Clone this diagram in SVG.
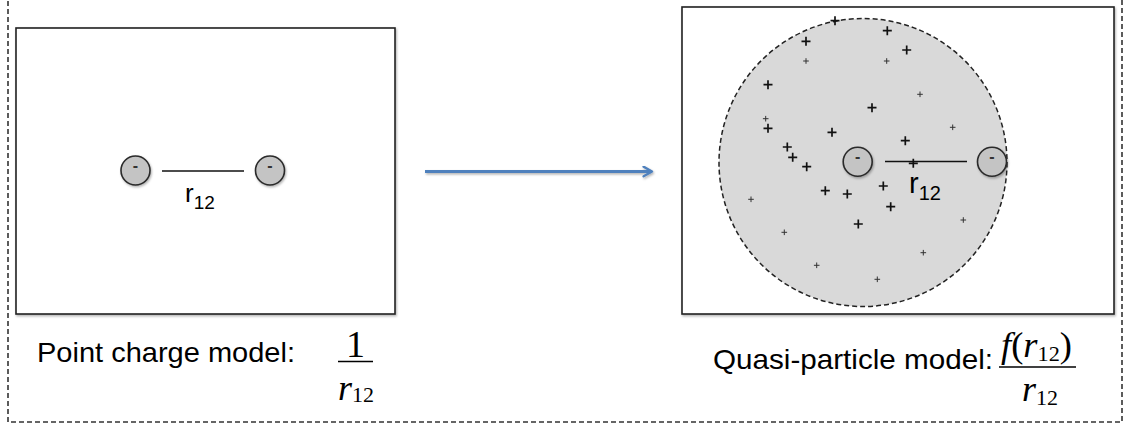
<svg xmlns="http://www.w3.org/2000/svg" width="1130" height="427" viewBox="0 0 1130 427">
  <defs>
    <filter id="sh" x="-10%" y="-10%" width="130%" height="130%">
      <feDropShadow dx="1" dy="1.5" stdDeviation="1.2" flood-color="#000" flood-opacity="0.3"/>
    </filter>
    <filter id="shl" filterUnits="userSpaceOnUse" x="400" y="140" width="290" height="60">
      <feDropShadow dx="1" dy="1.5" stdDeviation="1.2" flood-color="#000" flood-opacity="0.3"/>
    </filter>
    <marker id="arr" viewBox="0 0 10 10" refX="8" refY="5" markerWidth="4" markerHeight="4" orient="auto" markerUnits="strokeWidth">
      <path d="M1,1 L8,5 L1,9" fill="none" stroke="#4f81bd" stroke-width="2" stroke-linecap="round" stroke-linejoin="round"/>
    </marker>
    <path id="pb" d="M-4.5,0 H4.5 M0,-4.5 V4.5" stroke="#111" stroke-width="1.7" fill="none"/>
    <path id="ps" d="M-2.8,0 H2.8 M0,-2.8 V2.8" stroke="#333" stroke-width="1" fill="none"/>
  </defs>
  <style>
    .box { fill: #fff; stroke: #222; stroke-width: 1.6; }
    .elec { fill: #c4c4c4; stroke: #2a2a2a; stroke-width: 1.6; }
    .minus { font-family: "Liberation Sans", Arial, sans-serif; font-size: 16px; font-weight: bold; fill: #333; text-anchor: middle; }
    .lbl { font-family: "Liberation Sans", Arial, sans-serif; fill: #000; }
    .math { font-family: "Liberation Serif", "Times New Roman", serif; fill: #000; }
    .bond { stroke: #111; stroke-width: 1.6; }
  </style>

  <rect x="8" y="-6" width="1114" height="428" fill="none" stroke="#333" stroke-width="1.6" stroke-dasharray="5,3"/>

  <g id="left-panel">
    <rect class="box" x="16" y="28" width="379" height="286" filter="url(#sh)"/>
  </g>

  <g id="left-electron-1">
    <circle class="elec" cx="135.5" cy="170.5" r="14.5" filter="url(#sh)"/>
    <text class="minus" x="135.5" y="171">-</text>
  </g>
  <g id="left-electron-2">
    <circle class="elec" cx="270" cy="170.5" r="14.5" filter="url(#sh)"/>
    <text class="minus" x="270" y="171">-</text>
  </g>
  <g id="left-distance">
    <line class="bond" x1="162" y1="171" x2="244" y2="171"/>
    <text class="lbl" x="185" y="201.5" font-size="26">r<tspan font-size="19" dy="7.5">12</tspan></text>
  </g>

  <g id="left-caption">
    <text class="lbl" x="37" y="362" font-size="28" textLength="258" lengthAdjust="spacingAndGlyphs">Point charge model:</text>
    <text class="math" x="355.5" y="357" font-size="38" text-anchor="middle">1</text>
    <line x1="338" y1="361.5" x2="373" y2="361.5" stroke="#000" stroke-width="1.4"/>
    <text class="math" x="338" y="400" font-size="36"><tspan font-style="italic">r</tspan><tspan font-size="22" dy="2">12</tspan></text>
  </g>

  <g id="connectors">
    <line x1="425" y1="171.5" x2="652" y2="171.5" stroke="#4f81bd" stroke-width="3" marker-end="url(#arr)" filter="url(#shl)"/>
  </g>

  <g id="right-panel">
    <rect class="box" x="682" y="7" width="432" height="307" filter="url(#sh)"/>
  </g>

  <g id="quasi-cloud">
    <circle cx="863" cy="162.5" r="144" fill="#d9d9d9" stroke="#222" stroke-width="1.5" stroke-dasharray="5,3"/>
    <use href="#pb" x="835" y="20.7"/>
    <use href="#pb" x="887.3" y="30.7"/>
    <use href="#pb" x="806" y="41.3"/>
    <use href="#pb" x="906.7" y="50"/>
    <use href="#pb" x="768" y="84.7"/>
    <use href="#pb" x="872" y="107.7"/>
    <use href="#pb" x="768" y="128.3"/>
    <use href="#pb" x="832" y="132.3"/>
    <use href="#pb" x="905.3" y="140.7"/>
    <use href="#pb" x="787.3" y="147"/>
    <use href="#pb" x="792.7" y="157.3"/>
    <use href="#pb" x="806.7" y="166.7"/>
    <use href="#pb" x="825.3" y="190.7"/>
    <use href="#pb" x="847.3" y="194"/>
    <use href="#pb" x="883.3" y="186"/>
    <use href="#pb" x="890.7" y="206.7"/>
    <use href="#pb" x="858.3" y="224"/>
    <use href="#ps" x="806" y="61"/>
    <use href="#ps" x="886.7" y="61"/>
    <use href="#ps" x="920" y="94.3"/>
    <use href="#ps" x="765.7" y="118.7"/>
    <use href="#ps" x="952.7" y="127.3"/>
    <use href="#ps" x="751" y="199.3"/>
    <use href="#ps" x="963.3" y="220"/>
    <use href="#ps" x="784.3" y="232.3"/>
    <use href="#ps" x="923.3" y="252.7"/>
    <use href="#ps" x="816.7" y="265.3"/>
    <use href="#ps" x="877.3" y="279.3"/>
  </g>

  <g id="right-electron-1">
    <circle class="elec" cx="857.7" cy="161.7" r="14.5" filter="url(#sh)"/>
    <text class="minus" x="857.7" y="162">-</text>
  </g>
  <g id="right-electron-2">
    <circle class="elec" cx="992" cy="161.7" r="14.5" filter="url(#sh)"/>
    <text class="minus" x="992" y="162">-</text>
  </g>
  <g id="right-distance">
    <line class="bond" x1="885" y1="161.5" x2="967" y2="161.5"/>
    <use href="#pb" x="913.3" y="163.3"/>
    <text class="lbl" x="909" y="192.7" font-size="29">r<tspan font-size="20" dy="7.5">12</tspan></text>
  </g>

  <g id="right-caption">
    <text class="lbl" x="713" y="369" font-size="28" textLength="280" lengthAdjust="spacingAndGlyphs">Quasi-particle model:</text>
    <text class="math" x="1001" y="357" font-size="36" textLength="71" lengthAdjust="spacingAndGlyphs"><tspan font-style="italic">f</tspan>(<tspan font-style="italic">r</tspan><tspan font-size="22" dy="4">12</tspan><tspan dy="-4">)</tspan></text>
    <line x1="999" y1="367" x2="1076" y2="367" stroke="#000" stroke-width="1.4"/>
    <text class="math" x="1022" y="401" font-size="36"><tspan font-style="italic">r</tspan><tspan font-size="22" dy="4">12</tspan></text>
  </g>
</svg>
